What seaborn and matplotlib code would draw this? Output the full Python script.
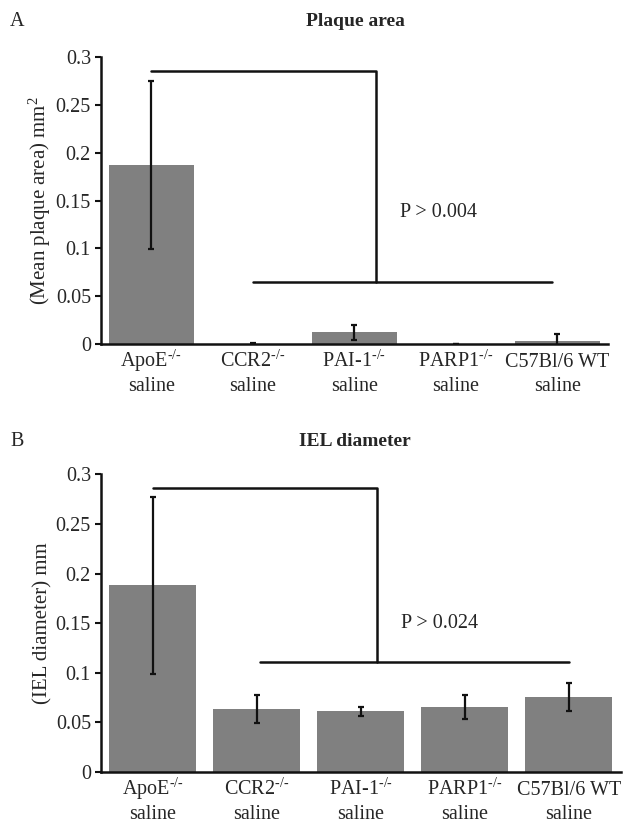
import numpy as np
import pandas as pd
import matplotlib
matplotlib.use("Agg")
import matplotlib.pyplot as plt
import seaborn as sns

categories = ["ApoE", "CCR2", "PAI-1", "PARP1", "C57Bl/6 WT"]
superscripts = ["-/-", "-/-", "-/-", "-/-", ""]
second_line = ["saline", "saline", "saline", "saline", "saline"]
plaque_mean = [0.187, 0.0005, 0.0122, 0.0, 0.003]
plaque_err = [0.088, 0.001, 0.0078, 0.0, 0.0078]
iel_mean = [0.188, 0.0635, 0.0612, 0.0655, 0.0753]
iel_err = [0.0895, 0.0145, 0.0045, 0.0122, 0.014]
yticks = [0, 0.05, 0.1, 0.15, 0.2, 0.25, 0.3]
ytick_labels = ["0", "0.05", "0.1", "0.15", "0.2", "0.25", "0.3"]

sns.set_style("white")
plt.rcParams["font.family"] = ["Liberation Serif", "DejaVu Serif"]
plt.rcParams["mathtext.fontset"] = "custom"
plt.rcParams["mathtext.rm"] = "Liberation Serif"
plt.rcParams["mathtext.it"] = "Liberation Serif:italic"
plt.rcParams["mathtext.bf"] = "Liberation Serif:bold"

TICK_FS = 14.5
fig = plt.figure(figsize=(6.32, 8.25), dpi=100)
axA = fig.add_axes([0.1593, 0.583, 0.962 - 0.1593, 0.9309 - 0.583])
axB = fig.add_axes([0.1593, 0.0642, 0.982 - 0.1593, 0.4251 - 0.0642])

PX = 0.72  # points per pixel at dpi 100


def draw(ax, means, errs, ylabel, bracket, ptext):
    df = pd.DataFrame({"cat": categories, "val": means})
    sns.barplot(data=df, x="cat", y="val", color="#808080", saturation=1,
                width=0.84, errorbar=None, ax=ax, edgecolor="none")
    ax.errorbar(np.arange(len(means)), means, yerr=errs, fmt="none",
                ecolor="#111111", elinewidth=1.6, capsize=2, capthick=1.6,
                zorder=3)
    ax.set_xlim(-0.5, 4.5)
    ax.set_ylim(0, 0.3)
    ax.set_yticks(yticks)
    ax.set_yticklabels(ytick_labels, fontsize=TICK_FS)
    ax.set_xticks(range(len(categories)))
    ax.set_xticklabels([""] * len(categories))
    ax.tick_params(axis="x", length=0)
    ax.tick_params(axis="y", direction="out", length=4, width=1.5,
                   color="#111111", left=True, pad=3)
    for s in ["top", "right"]:
        ax.spines[s].set_visible(False)
    for s in ["left", "bottom"]:
        ax.spines[s].set_color("#111111")
        ax.spines[s].set_linewidth(1.8)
    ax.set_xlabel("")
    ax.set_ylabel(ylabel, fontsize=15, labelpad=2)
    tr = ax.get_xaxis_transform()
    for i, (c, sup, l2) in enumerate(zip(categories, superscripts, second_line)):
        lab = c + (r"$^{\text{%s}}$" % sup if sup else "")
        ax.annotate(lab, xy=(i, 0), xycoords=tr, xytext=(0, -23 * PX),
                    textcoords="offset points", ha="center", va="baseline",
                    fontsize=TICK_FS)
        ax.annotate(l2, xy=(i, 0), xycoords=tr, xytext=(0, -47 * PX),
                    textcoords="offset points", ha="center", va="baseline",
                    fontsize=TICK_FS)
    top, vx, low, lx0, lx1 = bracket
    ax.plot([0, vx, vx], [top, top, low], color="#111111", lw=1.8,
            clip_on=False)
    ax.plot([lx0, lx1], [low, low], color="#111111", lw=1.8, clip_on=False)
    ax.text(ptext[0], ptext[1], ptext[2], fontsize=TICK_FS, ha="left",
            va="center")


draw(axA, plaque_mean, plaque_err, "(Mean plaque area) mm$^{2}$",
     (0.285, 2.214, 0.065, 1.005, 3.95), (2.45, 0.137, "P > 0.004"))
draw(axB, iel_mean, iel_err, "(IEL diameter) mm",
     (0.286, 2.154, 0.111, 1.03, 4.0), (2.39, 0.150, "P > 0.024"))

fig.text(10 / 632, 1 - 22 / 825, "A", fontsize=TICK_FS, va="center")
fig.text(355 / 632, 1 - 22 / 825, "Plaque area", fontsize=14,
         fontweight="bold", ha="center", va="center")
fig.text(10 / 632, 1 - 442 / 825, "B", fontsize=TICK_FS, va="center")
fig.text(355 / 632, 1 - 442 / 825, "IEL diameter", fontsize=14,
         fontweight="bold", ha="center", va="center")

fig.savefig("out.png", dpi=100)
